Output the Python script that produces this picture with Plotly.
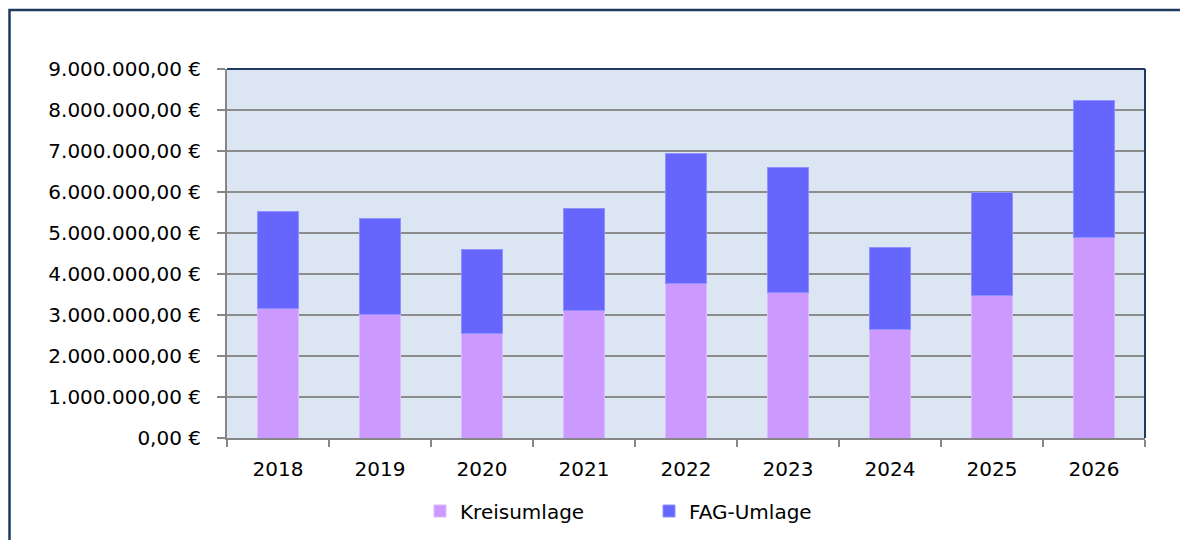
import plotly.graph_objects as go

years = ["2018", "2019", "2020", "2021", "2022", "2023", "2024", "2025", "2026"]
kreisumlage = [3150000, 3020000, 2560000, 3100000, 3760000, 3560000, 2640000, 3480000, 4900000]
fag_umlage = [2370000, 2330000, 2040000, 2500000, 3170000, 3040000, 2000000, 2500000, 3340000]

y_tickvals = [0, 1e6, 2e6, 3e6, 4e6, 5e6, 6e6, 7e6, 8e6, 9e6]
y_ticktext = ["0,00 €", "1.000.000,00 €", "2.000.000,00 €", "3.000.000,00 €", "4.000.000,00 €",
              "5.000.000,00 €", "6.000.000,00 €", "7.000.000,00 €", "8.000.000,00 €", "9.000.000,00 €"]

FONT = "DejaVu Sans"
FS = 20
W, H = 1188, 540
OFF = 8  # page body margin
L, R, T, B = 227 - OFF, 51, 69 - OFF, 110
pw, ph = W - L - R, H - T - B

fig = go.Figure()
fig.add_trace(go.Bar(x=years, y=kreisumlage, name="Kreisumlage",
                     marker=dict(color="#CC99FF", line=dict(color="#DDBBFF", width=1))))
fig.add_trace(go.Bar(x=years, y=fag_umlage, name="FAG-Umlage",
                     marker=dict(color="#6666FF", line=dict(color="#9090FF", width=1))))

def px_x(x):  # page pixel -> paper
    return (x - OFF - L) / pw

def px_y(y):
    return (H - B - (y - OFF)) / ph

shapes = [
    dict(type="rect", xref="paper", yref="paper", x0=px_x(9.5), x1=px_x(1230), y0=px_y(10), y1=px_y(580),
         line=dict(color="#1F3A60", width=2.5), fillcolor="rgba(0,0,0,0)", layer="above"),
    dict(type="line", xref="paper", yref="paper", x0=0, x1=1, y0=1, y1=1,
         line=dict(color="#1F3A60", width=2), layer="above"),
    dict(type="line", xref="paper", yref="paper", x0=1, x1=1, y0=0, y1=1,
         line=dict(color="#1F3A60", width=2), layer="above"),
]

fig.update_layout(
    barmode="stack",
    bargap=0.6,
    width=W, height=H,
    margin=dict(l=L, r=R, t=T, b=B),
    paper_bgcolor="white",
    plot_bgcolor="#DCE6F2",
    font=dict(family=FONT, size=FS, color="#000000"),
    showlegend=True,
    legend=dict(orientation="h", x=px_x(420), xanchor="left", y=px_y(511), yanchor="middle",
                font=dict(family=FONT, size=FS), entrywidth=184, entrywidthmode="pixels",
                traceorder="normal", bgcolor="rgba(0,0,0,0)"),
    shapes=shapes,
)
fig.update_xaxes(
    type="category", tickson="boundaries", ticks="outside", ticklen=7, tickwidth=2, tickcolor="#868686",
    showline=True, linecolor="#868686", linewidth=2, showgrid=False,
    tickfont=dict(family=FONT, size=FS), ticklabelstandoff=12,
)
fig.update_yaxes(
    range=[0, 9e6], tickvals=y_tickvals, ticktext=y_ticktext,
    ticks="outside", ticklen=8, tickwidth=2, tickcolor="#868686",
    showline=True, linecolor="#868686", linewidth=2,
    showgrid=True, gridcolor="#8C8C8C", gridwidth=2, zeroline=False,
    tickfont=dict(family=FONT, size=FS), ticklabelstandoff=12,
)

fig.write_html("out.html")
